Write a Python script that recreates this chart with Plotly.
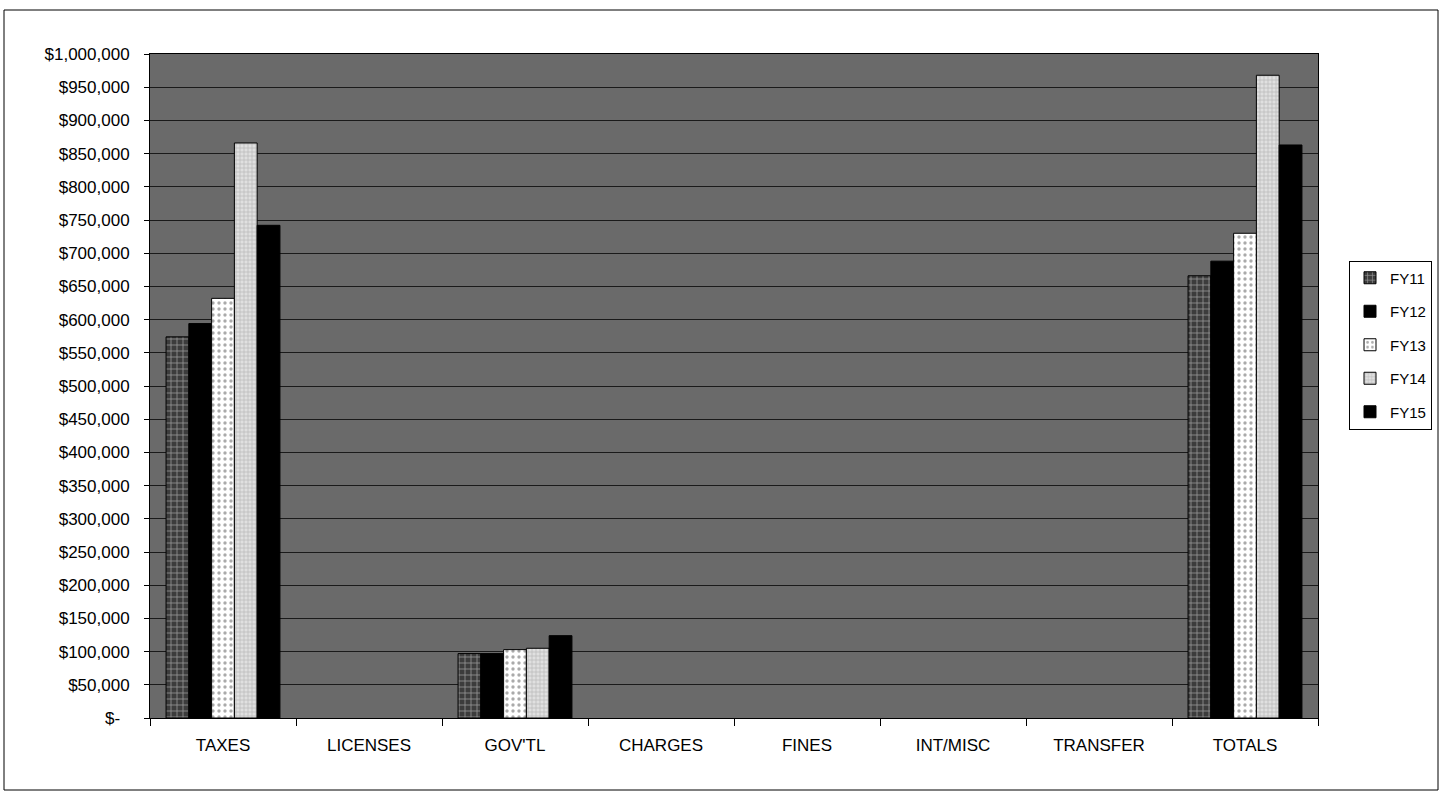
import plotly.graph_objects as go

# Revenue categories and fiscal-year series
categories = ["TAXES", "LICENSES", "GOV'TL", "CHARGES", "FINES", "INT/MISC", "TRANSFER", "TOTALS"]
series_names = ["FY11", "FY12", "FY13", "FY14", "FY15"]
fy11 = [574000, None, 97000, None, None, None, None, 666000]
fy12 = [594000, None, 97000, None, None, None, None, 688000]
fy13 = [632000, None, 103000, None, None, None, None, 730000]
fy14 = [866000, None, 105000, None, None, None, None, 968000]
fy15 = [742000, None, 124000, None, None, None, None, 863000]

y_tick_values = [0, 50000, 100000, 150000, 200000, 250000, 300000, 350000, 400000, 450000,
                 500000, 550000, 600000, 650000, 700000, 750000, 800000, 850000, 900000,
                 950000, 1000000]
y_tick_labels = ["$-\u00a0\u00a0", "$50,000", "$100,000", "$150,000", "$200,000", "$250,000",
                 "$300,000", "$350,000", "$400,000", "$450,000", "$500,000", "$550,000",
                 "$600,000", "$650,000", "$700,000", "$750,000", "$800,000", "$850,000",
                 "$900,000", "$950,000", "$1,000,000"]

series_values = [fy11, fy12, fy13, fy14, fy15]

# Fill styles for each fiscal year (pattern fills in greyscale)
styles = [
    dict(color="#3c3c3c", pattern=dict(shape="+", fgcolor="#f0f0f0", size=6, solidity=0.25)),
    dict(color="#000000", pattern=dict(shape="")),
    dict(color="#ffffff", pattern=dict(shape=".", fgcolor="#555555", size=6, solidity=0.25)),
    dict(color="#e0e0e0", pattern=dict(shape="+", fgcolor="#8a8a8a", size=4, solidity=0.3)),
    dict(color="#000000", pattern=dict(shape="")),
]

fig = go.Figure()
for i, (name, vals, st) in enumerate(zip(series_names, series_values, styles)):
    fig.add_trace(go.Bar(
        x=categories, y=vals, name=name,
        legendgroup=name,
        marker=dict(color=st["color"], pattern=st["pattern"],
                    line=dict(color="#000000", width=1)),
    ))

W, H = 1448, 792
L, R, T, B = 150, 130, 54, 74
pw, ph = W - L - R, H - T - B

def px_x(p):
    return (p - L) / pw

def px_y(p):
    return (H - B - p) / ph

fig.update_layout(
    width=W, height=H,
    margin=dict(l=L, r=R, t=T, b=B, pad=0),
    paper_bgcolor="#ffffff",
    plot_bgcolor="#6a6a6a",
    barmode="group",
    bargap=0.22,
    bargroupgap=0,
    font=dict(family="Liberation Sans, Arial, sans-serif", size=17, color="#000000"),
    showlegend=True,
    legend=dict(
        x=px_x(1349), y=px_y(345), xanchor="left", yanchor="middle",
        bordercolor="#000000", borderwidth=1, bgcolor="#ffffff",
        font=dict(size=15, color="#000000"),
        traceorder="grouped", tracegroupgap=11,
        itemwidth=30,
    ),
    shapes=[
        dict(type="rect", xref="paper", yref="paper",
             x0=px_x(4), x1=px_x(1438), y0=px_y(790), y1=px_y(10),
             line=dict(color="#000000", width=1), layer="below"),
    ],
)

fig.update_xaxes(
    type="category",
    showline=True, linecolor="#000000", linewidth=1, mirror=True,
    ticks="outside", ticklen=7, tickcolor="#000000", tickson="boundaries",
    ticklabelstandoff=12,
    showgrid=False,
    tickfont=dict(size=17),
)
fig.update_yaxes(
    range=[0, 1000000],
    tickvals=y_tick_values, ticktext=y_tick_labels,
    showline=True, linecolor="#000000", linewidth=1, mirror=True,
    ticks="outside", ticklen=5, tickcolor="#000000",
    ticklabelstandoff=11,
    showgrid=True, gridcolor="#1a1a1a", gridwidth=1,
    zeroline=False,
    tickfont=dict(size=17),
)

fig.write_html("out.html")
